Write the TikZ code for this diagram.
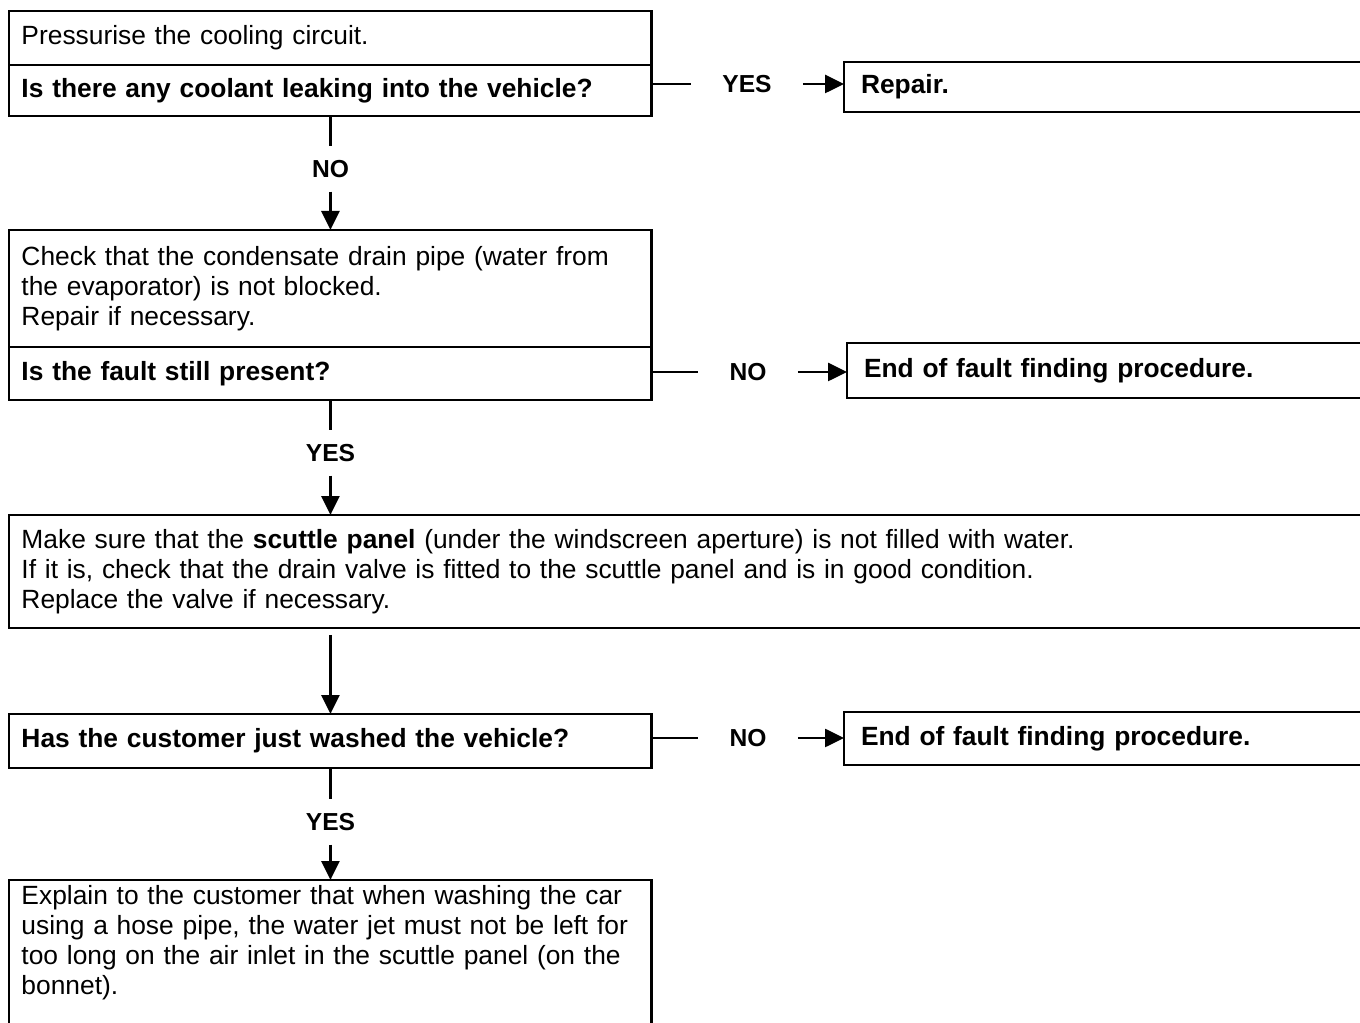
\documentclass[tikz,border=0pt]{standalone}
\usepackage{fontspec}
\setmainfont{Liberation Sans}
\usetikzlibrary{arrows.meta,positioning}

\begin{document}
\begin{tikzpicture}[
  x=0.02cm,y=-0.02cm,
  box/.style={rectangle,draw,line width=1.6pt,outer sep=0pt,anchor=north west,align=left,
    inner xsep=0.25cm,text width=12.36cm,font=\fontsize{15pt}{17pt}\selectfont},
  question/.style={box,font=\fontsize{15pt}{17pt}\selectfont\bfseries},
  endbox/.style={question,inner xsep=0.34cm,text width=14cm},
  hlabel/.style={font=\fontsize{14pt}{17pt}\selectfont\bfseries,inner ysep=0pt,inner xsep=0.62cm},
  vlabel/.style={font=\fontsize{14pt}{17pt}\selectfont\bfseries,inner xsep=0pt,inner ysep=0.27cm},
  link/.style={line width=1.5pt},
  flow/.style={link,-{Triangle[length=0.38cm,width=0.36cm]}},
]
\path[use as bounding box,clip] (0,0) rectangle (1360,1023);

% first check
\node[box,minimum height=1.08cm] (pressurise) at (9,11) {Pressurise the cooling circuit.};
\node[question,minimum height=1.02cm] (leak) at (pressurise.south west) {Is there any coolant leaking into the vehicle?};
\node[endbox,minimum height=1.0cm] (repair) at (844,62) {Repair.};
\node[hlabel] (yes1) at (747,84) {YES};
\node[vlabel] (no1) at (330.5,169) {NO};

% drain pipe
\node[box,minimum height=2.34cm] (drain) at (9,230) {Check that the condensate drain pipe (water from\\the evaporator) is not blocked.\\Repair if necessary.};
\node[question,minimum height=1.06cm] (still) at (drain.south west) {Is the fault still present?};
\node[endbox,minimum height=1.1cm] (end1) at (847,343) {End of fault finding procedure.};
\node[hlabel] (no2) at (748,372) {NO};
\node[vlabel] (yes2) at (330.5,453) {YES};

% scuttle panel
\node[box,text width=27.5cm,minimum height=2.26cm] (scuttle) at (9,515) {Make sure that the \textbf{scuttle panel} (under the windscreen aperture) is not filled with water.\\If it is, check that the drain valve is fitted to the scuttle panel and is in good condition.\\Replace the valve if necessary.};

% washing
\node[question,minimum height=1.08cm] (washed) at (9,714) {Has the customer just washed the vehicle?};
\node[endbox,minimum height=1.06cm] (end2) at (844,712) {End of fault finding procedure.};
\node[hlabel] (no3) at (748,738) {NO};
\node[vlabel] (yes3) at (330.5,822) {YES};
\node[box,text depth=2.9cm] (explain) at (9,880) {Explain to the customer that when washing the car\\using a hose pipe, the water jet must not be left for\\too long on the air inlet in the scuttle panel (on the\\bonnet).};

\draw[link] (yes1.west -| leak.east) -- (yes1.west);
\draw[flow] (yes1.east) -- (yes1.east -| repair.west);
\draw[link] (leak.south) -- (leak.south |- no1.north);
\draw[flow] (drain.north |- no1.south) -- (drain.north);

\draw[link] (no2.west -| still.east) -- (no2.west);
\draw[flow] (no2.east) -- (no2.east -| end1.west);
\draw[link] (still.south) -- (still.south |- yes2.north);
\draw[flow] (still.south |- yes2.south) -- (still.south |- scuttle.north);

\draw[flow,shorten <=0.14cm] (washed.north |- scuttle.south) -- (washed.north);

\draw[link] (no3.west -| washed.east) -- (no3.west);
\draw[flow] (no3.east) -- (no3.east -| end2.west);
\draw[link] (washed.south) -- (washed.south |- yes3.north);
\draw[flow] (explain.north |- yes3.south) -- (explain.north);

\end{tikzpicture}
\end{document}
